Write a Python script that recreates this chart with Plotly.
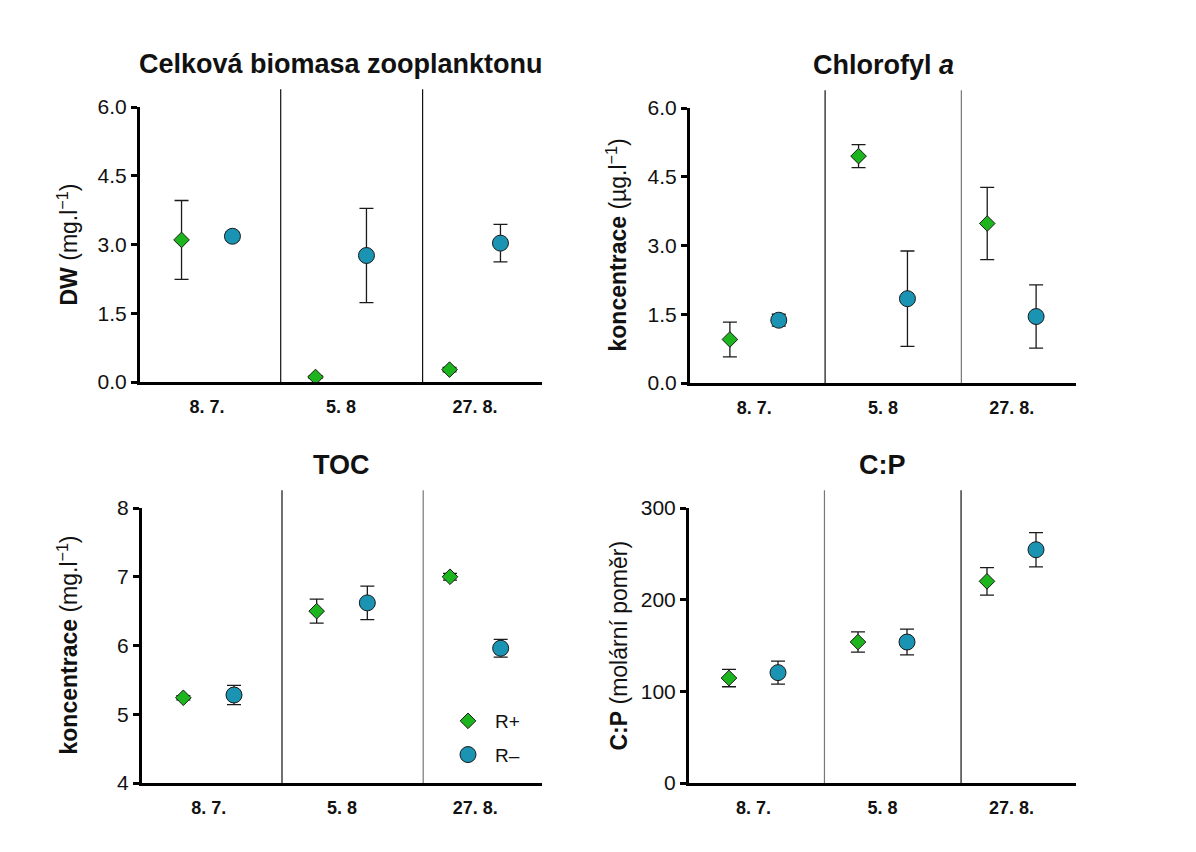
import plotly.graph_objects as go

# ---------------- data ----------------
dates = ["8. 7.", "5. 8", "27. 8."]

biomasa_rp = [3.10, 0.11, 0.27]
biomasa_rp_err = [0.86, 0.03, 0.05]
biomasa_rm = [3.18, 2.76, 3.03]
biomasa_rm_err = [0.09, 1.03, 0.41]

chl_rp = [0.95, 4.95, 3.48]
chl_rp_err = [0.38, 0.25, 0.79]
chl_rm = [1.37, 1.84, 1.45]
chl_rm_err = [0.13, 1.04, 0.69]

toc_rp = [5.24, 6.50, 7.00]
toc_rp_err = [0.03, 0.175, 0.05]
toc_rm = [5.28, 6.62, 5.96]
toc_rm_err = [0.14, 0.245, 0.13]

cp_rp = [114.5, 153.8, 220.0]
cp_rp_err = [9.5, 11.0, 15.0]
cp_rm = [120.4, 153.8, 254.5]
cp_rm_err = [12.5, 14.0, 18.7]

# ---------------- style ----------------
W, H = 1196, 852
GREEN = "#1DB51D"
TEAL = "#1B93B2"
FONT = "Liberation Sans, Arial, sans-serif"


def px_x(p):
    return p / W


def px_y(p):
    return 1 - p / H


panels = [
    dict(x=(140, 542), y=(107, 382), rp=biomasa_rp, rpe=biomasa_rp_err, rm=biomasa_rm, rme=biomasa_rm_err,
         yr=[0, 6], tv=[0, 1.5, 3, 4.5, 6], fmt=".1f", title="<b>Celková biomasa zooplanktonu</b>",
         yt="<b>DW</b> (mg.l<sup>−1</sup>)", ytx=67, sepc=["#111111", "#111111"]),
    dict(x=(690, 1076), y=(108, 383), rp=chl_rp, rpe=chl_rp_err, rm=chl_rm, rme=chl_rm_err,
         yr=[0, 6], tv=[0, 1.5, 3, 4.5, 6], fmt=".1f", title="<b>Chlorofyl <i>a</i></b>",
         yt="<b>koncentrace</b> (µg.l<sup>−1</sup>)", ytx=617, sepc=["#111111", "#777777"]),
    dict(x=(142, 542), y=(508, 783), rp=toc_rp, rpe=toc_rp_err, rm=toc_rm, rme=toc_rm_err,
         yr=[4, 8], tv=[4, 5, 6, 7, 8], fmt="d", title="<b>TOC</b>",
         yt="<b>koncentrace</b> (mg.l<sup>−1</sup>)", ytx=67, sepc=["#111111", "#777777"]),
    dict(x=(689, 1076), y=(508, 783), rp=cp_rp, rpe=cp_rp_err, rm=cp_rm, rme=cp_rm_err,
         yr=[0, 300], tv=[0, 100, 200, 300], fmt="d", title="<b>C:P</b>",
         yt="<b>C:P</b> (molární poměr)", ytx=618, sepc=["#777777", "#111111"]),
]

SEP_POS = [0.35, 0.703]

fig = go.Figure()
annotations = []
shapes = []
layout_axes = {}

for i, p in enumerate(panels):
    n = i + 1
    xa = "x" if n == 1 else f"x{n}"
    ya = "y" if n == 1 else f"y{n}"
    xkey = "xaxis" if n == 1 else f"xaxis{n}"
    ykey = "yaxis" if n == 1 else f"yaxis{n}"
    show_leg = (n == 3)

    fig.add_trace(go.Scatter(
        x=dates, y=p["rp"], mode="markers", name="R+", offsetgroup="rp",
        xaxis=xa, yaxis=ya, showlegend=show_leg, legendgroup="rp",
        marker=dict(symbol="diamond", size=12, color=GREEN, line=dict(color="#1a1a1a", width=1)),
        error_y=dict(type="data", array=p["rpe"], color="#1a1a1a", thickness=1.3, width=7),
        cliponaxis=False,
    ))
    fig.add_trace(go.Scatter(
        x=dates, y=p["rm"], mode="markers", name="R–", offsetgroup="rm",
        xaxis=xa, yaxis=ya, showlegend=show_leg, legendgroup="rm",
        marker=dict(symbol="circle", size=16, color=TEAL, line=dict(color="#1a1a1a", width=1)),
        error_y=dict(type="data", array=p["rme"], color="#1a1a1a", thickness=1.3, width=7),
        cliponaxis=False,
    ))

    layout_axes[xkey] = dict(
        domain=[px_x(p["x"][0]), px_x(p["x"][1])], anchor=ya, automargin=False,
        type="category", categoryorder="array", categoryarray=dates, range=[-0.5, 2.5],
        showline=True, linecolor="black", linewidth=3, mirror=False,
        ticks="outside", ticklen=6, tickcolor="rgba(0,0,0,0)",
        tickfont=dict(family=FONT, size=18, color="#111111"),
        tickprefix="<b>", ticksuffix="</b>",
        showgrid=False, zeroline=False, fixedrange=True,
    )
    layout_axes[ykey] = dict(
        domain=[px_y(p["y"][1]), px_y(p["y"][0])], anchor=xa, automargin=False,
        range=p["yr"], tickvals=p["tv"], tickformat=p["fmt"],
        showline=True, linecolor="black", linewidth=3,
        ticks="outside", ticklen=6, tickwidth=2.5, tickcolor="black",
        tickfont=dict(family=FONT, size=21, color="#111111"),
        showgrid=False, zeroline=False, fixedrange=True,
    )

    for sx, sc in zip(SEP_POS, p["sepc"]):
        shapes.append(dict(type="line", xref=f"{xa} domain", yref=f"{ya} domain",
                           x0=sx, x1=sx, y0=0, y1=1.065, line=dict(color=sc, width=1.2)))

    xmid = (p["x"][0] + p["x"][1]) / 2
    annotations.append(dict(
        text=p["title"], xref="paper", yref="paper",
        x=px_x(xmid), y=px_y(p["y"][0] - 43), xanchor="center", yanchor="middle",
        showarrow=False, font=dict(family=FONT, size=27, color="#111111"),
    ))
    annotations.append(dict(
        text=p["yt"], xref="paper", yref="paper",
        x=px_x(p["ytx"]), y=px_y((p["y"][0] + p["y"][1]) / 2), xanchor="center", yanchor="middle",
        textangle=-90, showarrow=False, font=dict(family=FONT, size=23, color="#111111"),
    ))

fig.update_layout(
    template="none",
    width=W, height=H,
    margin=dict(l=0, r=0, t=0, b=0, autoexpand=False),
    paper_bgcolor="white", plot_bgcolor="white",
    scattermode="group", scattergap=0.24,
    showlegend=True,
    legend=dict(
        x=px_x(441), y=px_y(702), xanchor="left", yanchor="top",
        bgcolor="rgba(0,0,0,0)", font=dict(family=FONT, size=19, color="#111111"),
        traceorder="grouped", tracegroupgap=6, itemwidth=44,
    ),
    annotations=annotations,
    shapes=shapes,
    **layout_axes,
)

fig.write_html("out.html", post_script="document.body.style.margin='0';")
